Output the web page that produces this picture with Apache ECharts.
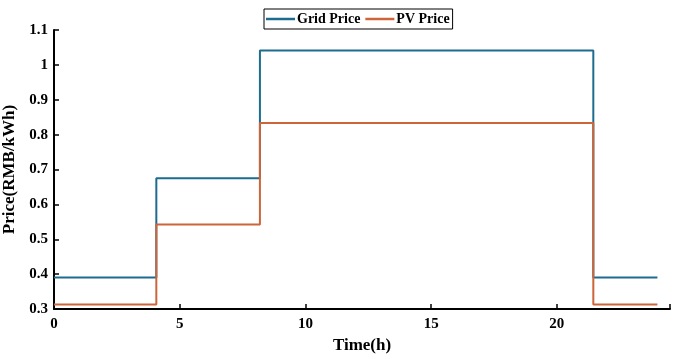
<!DOCTYPE html>
<html><head><meta charset="utf-8">
<script src="https://cdn.jsdelivr.net/npm/echarts@6/dist/echarts.min.js"></script>
<style>html,body{margin:0;padding:0;background:#fff}#c{width:679px;height:359px}</style>
</head><body><div id="c"></div>
<script>
var stepTimes = [0, 4.07, 8.19, 21.45, 24];
var gridPrice = [0.39, 0.675, 1.041, 0.39, 0.39];
var pvPrice = [0.313, 0.542, 0.833, 0.313, 0.313];
var seriesNames = ['Grid Price', 'PV Price'];

function pairs(xs, ys){ return xs.map(function(x,i){ return [x, ys[i]]; }); }
var font = 'Liberation Serif';
var chart = echarts.init(document.getElementById('c'), null, {renderer:'canvas'});
chart.setOption({
  animation:false,
  backgroundColor:'#fff',
  textStyle:{fontFamily:font},
  grid:{left:54, right:9, top:30, bottom:50, containLabel:false, outerBoundsMode:'none'},
  legend:{
    top:9, left:264, data:seriesNames,
    icon:'rect', itemWidth:29, itemHeight:2.5, itemGap:5,
    borderColor:'#000', borderWidth:1, padding:[3,3,3,2],
    textStyle:{fontFamily:font, fontWeight:'bold', fontSize:14, color:'#000', padding:[0,0,0,-3]}
  },
  xAxis:{
    type:'value', min:0, max:24.5, interval:5,
    name:'Time(h)', nameLocation:'middle', nameGap:28,
    nameTextStyle:{fontFamily:font, fontWeight:'bold', fontSize:17, color:'#000'},
    axisLine:{lineStyle:{color:'#000', width:2}},
    axisTick:{inside:true, length:5, lineStyle:{color:'#000', width:1.5}},
    axisLabel:{fontFamily:font, fontWeight:'bold', fontSize:15, color:'#000', margin:8,
      formatter:function(v){ return v>24 ? '' : v; }},
    splitLine:{show:false}
  },
  yAxis:{
    type:'value', min:0.3, max:1.1, interval:0.1,
    name:'Price(RMB/kWh)', nameLocation:'middle', nameGap:36,
    nameTextStyle:{fontFamily:font, fontWeight:'bold', fontSize:17, color:'#000'},
    axisLine:{show:true, lineStyle:{color:'#000', width:2}},
    axisTick:{show:true, inside:true, length:5, lineStyle:{color:'#000', width:1.5}},
    axisLabel:{fontFamily:font, fontWeight:'bold', fontSize:15, color:'#000', margin:6},
    splitLine:{show:false}
  },
  series:[
    {name:seriesNames[0], type:'line', step:'end', data:pairs(stepTimes, gridPrice),
     showSymbol:false, symbol:'none', lineStyle:{color:'#1d6c90', width:2}, itemStyle:{color:'#1d6c90'}},
    {name:seriesNames[1], type:'line', step:'end', data:pairs(stepTimes, pvPrice),
     showSymbol:false, symbol:'none', lineStyle:{color:'#cc653a', width:2}, itemStyle:{color:'#cc653a'}}
  ]
});
</script></body></html>
